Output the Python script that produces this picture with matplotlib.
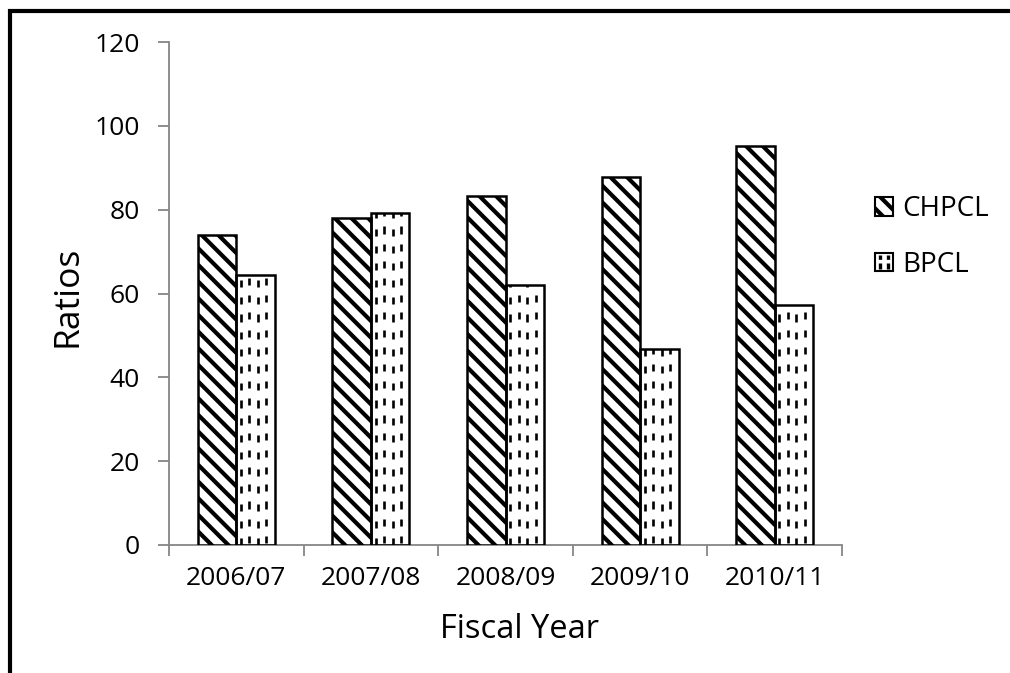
import numpy as np
import matplotlib
matplotlib.use("Agg")
import matplotlib.pyplot as plt
from matplotlib.lines import Line2D
from matplotlib.collections import LineCollection
from matplotlib.patches import Rectangle, Patch
from matplotlib.legend_handler import HandlerPatch

years = ["2006/07", "2007/08", "2008/09", "2009/10", "2010/11"]
chpcl = [74, 78, 83.3, 87.7, 95.2]
bpcl = [64.3, 79.1, 62.1, 46.7, 57.2]
yticks = [0, 20, 40, 60, 80, 100, 120]

plt.rcParams["font.family"] = ["Open Sans", "DejaVu Sans"]
plt.rcParams["hatch.linewidth"] = 3.0
plt.rcParams["hatch.color"] = "black"

W, H = 1010, 673
fig = plt.figure(figsize=(W / 100, H / 100), dpi=100)
ax = fig.add_axes([169 / W, 1 - 545 / H, (842 - 169) / W, (545 - 42) / H])

x = np.arange(len(years))
bw = 0.2857

bars_c = ax.bar(x - bw / 2, chpcl, bw, facecolor="white", edgecolor="black",
                linewidth=1.8, hatch="\\\\", zorder=3)
bars_b = ax.bar(x + bw / 2, bpcl, bw, facecolor="white", edgecolor="black",
                linewidth=1.8, zorder=4)
for rect in bars_b:
    rect.set_facecolor("none")

# vertical dashed fill pattern for the BPCL bars (dash / period in y units)
dash_len, dash_period = 1.7, 4.1
for rect in bars_b:
    x0 = rect.get_x()
    x1 = x0 + rect.get_width()
    h = rect.get_height()
    segs = []
    for i, xx in enumerate(np.arange(x0 + 0.035, x1 - 0.01, 0.063)):
        off = 0.5 if i % 2 else 0.0
        for y0 in np.arange(off, h, dash_period):
            segs.append([(xx, y0), (xx, min(y0 + dash_len, h))])
    lc = LineCollection(segs, colors="black", linewidths=1.9, zorder=3.5,
                        capstyle="butt")
    ax.add_collection(lc)

ax.set_xlim(-0.5, len(years) - 0.5)
ax.set_ylim(0, 120)
ax.set_yticks(yticks)
ax.set_xticks(x)
ax.set_xticklabels(years)
ax.set_xticks(np.arange(-0.5, len(years), 1.0), minor=True)

for s in ["top", "right"]:
    ax.spines[s].set_visible(False)
for s in ["left", "bottom"]:
    ax.spines[s].set_color("#868686")
    ax.spines[s].set_linewidth(1.3)

ax.tick_params(axis="y", direction="out", length=8, width=1.3, color="#868686",
               labelsize=19, pad=13)
ax.tick_params(axis="x", which="major", length=0, labelsize=19, pad=15)
ax.tick_params(axis="x", which="minor", direction="out", length=8, width=1.3,
               color="#868686")

fig.text(68 / W, 1 - 296 / H, "Ratios", fontsize=25.5, rotation=90,
         ha="center", va="center")
fig.text(519 / W, 1 - 629 / H, "Fiscal Year", fontsize=23.5,
         ha="center", va="center")


class DashHandler(HandlerPatch):
    def create_artists(self, legend, orig_handle, xdescent, ydescent, width,
                       height, fontsize, trans):
        p = Rectangle((-xdescent, -ydescent), width, height, facecolor="white",
                      edgecolor="black", linewidth=1.5, transform=trans)
        arts = [p]
        for fx in (0.28, 0.72):
            xx = -xdescent + fx * width
            ln = Line2D([xx, xx], [-ydescent + 0.12 * height, -ydescent + 0.88 * height],
                        color="black", linewidth=2.4, linestyle=(0, (1.8, 1.1)),
                        transform=trans)
            arts.append(ln)
        return arts


h_c = Patch(facecolor="white", edgecolor="black", hatch="\\\\", linewidth=1.5)
h_b = Patch(facecolor="white", edgecolor="black", linewidth=1.5)
leg = fig.legend([h_c, h_b], ["CHPCL", "BPCL"], loc="center left",
                 bbox_to_anchor=(861 / W, 1 - 237 / H), frameon=False,
                 fontsize=20, handlelength=0.65, handleheight=0.65,
                 handletextpad=0.35, labelspacing=1.0, borderpad=0,
                 handler_map={h_b: DashHandler()})

# outer chart frame
frame = Rectangle((10 / W, -0.1), 1.2, 1 - 11 / H + 0.1, transform=fig.transFigure,
                  facecolor="none", edgecolor="black", linewidth=3.0)
fig.patches.append(frame)

fig.savefig("out.png", dpi=100, facecolor="white")
